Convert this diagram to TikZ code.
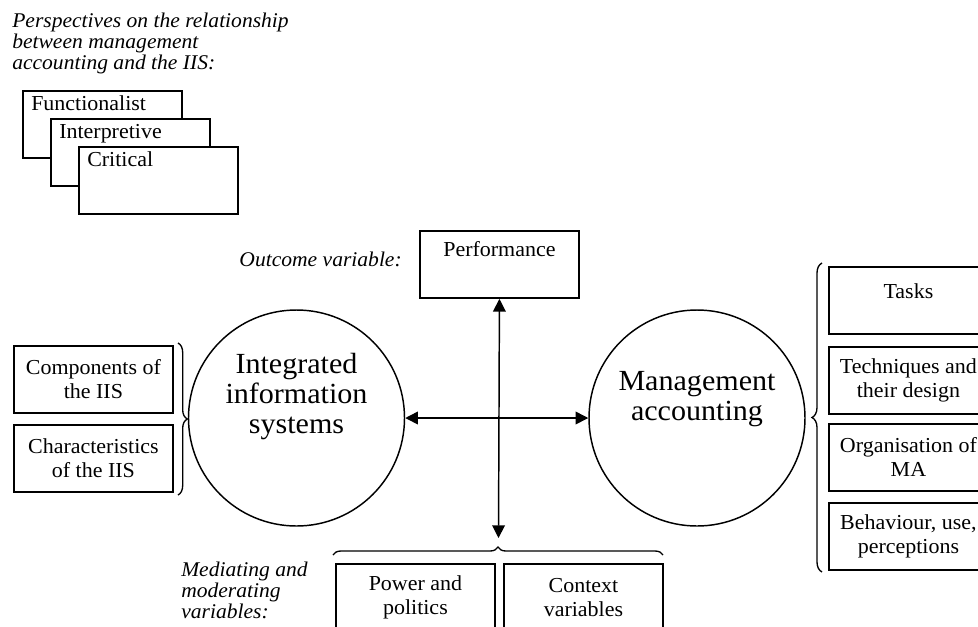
\documentclass[tikz,border=0pt]{standalone}
\usepackage{fontspec}
\setmainfont{Liberation Serif}[FakeStretch=1.03]
\usetikzlibrary{arrows.meta,decorations.pathreplacing,calc}
\begin{document}
\begin{tikzpicture}[x=0.75pt,y=-0.75pt,
  box/.style={draw, line width=1.4pt, fill=white, rectangle, minimum width=159*0.75pt, minimum height=67*0.75pt, inner sep=0pt, anchor=north west},
  btxt/.style={font=\fontsize{16}{18}\selectfont, align=center, inner sep=0pt},
  ctxt/.style={font=\fontsize{21.9}{22.5}\selectfont, align=center, inner sep=0pt},
  itxt/.style={font=\fontsize{15.7}{15.75}\selectfont\itshape, align=left, inner sep=0pt},
  circ/.style={draw, circle, line width=1.1pt, minimum size=216*0.75pt, inner sep=0pt},
  arr/.style={line width=1.1pt, arrows={Triangle[length=9.5pt,width=9.5pt]-Triangle[length=9.5pt,width=9.5pt]}},
  brc/.style={decorate, line width=1pt, decoration={brace, amplitude=#1}},
]
\useasboundingbox (0,0) rectangle (978,626);
\clip (0,0) rectangle (978,626);

% perspectives
\node[itxt, anchor=north west] (title) at (12,12.7) {Perspectives on the relationship\\between management\\accounting and the IIS:};
\node[box] (fun) at (22,90) {};
\node[btxt, anchor=base west] (funt) at ($(fun.north west)+(9,20)$) {Functionalist};
\node[box] (int) at (50,118) {};
\node[btxt, anchor=base west] (intt) at ($(int.north west)+(9,20)$) {Interpretive};
\node[box] (cri) at (78,146) {};
\node[btxt, anchor=base west] (crit) at ($(cri.north west)+(9,20)$) {Critical};

% outcome
\node[itxt, anchor=base east] (outc) at (402,266) {Outcome variable:};
\node[box] (perf) at (419,230) {};
\node[btxt, anchor=base] (perft) at ($(perf.north)+(0,26.5)$) {Performance};

% circles
\node[circ] (iis) at (296.5,418) {};
\node[ctxt, anchor=north] (iist) at (296.5,353) {Integrated\\information\\systems};
\node[circ] (ma) at (697,418) {};
\node[ctxt, anchor=north] (mat) at (697,371) {Management\\accounting};

% arrows
\coordinate (dtip) at (498.5,538);
\draw[arr] (perf.south) -- (dtip);
\draw[arr] (iis.east) -- (ma.west);

% left boxes
\node[box] (comp) at (13,345) {};
\node[btxt] (compt) at (comp.center) {Components of\\the IIS};
\node[box] (char) at (13,424) {};
\node[btxt] (chart) at (char.center) {Characteristics\\of the IIS};
\draw[brc=7pt] (178,343) -- (178,495);

% right boxes
\node[box] (task) at (828,266) {};
\node[btxt, anchor=base] (taskt) at ($(task.north)+(0,32)$) {Tasks};
\node[box] (tech) at (828,346) {};
\node[btxt] (techt) at (tech.center) {Techniques and\\their design};
\node[box] (org) at (828,423) {};
\node[btxt] (orgt) at (org.center) {Organisation of\\MA};
\node[box] (beh) at (828,502) {};
\node[btxt] (beht) at (beh.center) {Behaviour, use,\\perceptions};
\draw[brc=7.5pt] (822,572) -- (822,263);

% bottom
\node[itxt, anchor=north west] (med) at (181,561.7) {Mediating and\\moderating\\variables:};
\draw[brc=6pt] (333,555) -- (663,555);
\node[box] (pow) at (335,563) {};
\node[btxt] (powt) at (pow.center) {Power and\\politics};
\node[box] (ctx) at (503,563) {};
\node[btxt] (ctxt) at (ctx.center) {Context\\variables};
\end{tikzpicture}
\end{document}
